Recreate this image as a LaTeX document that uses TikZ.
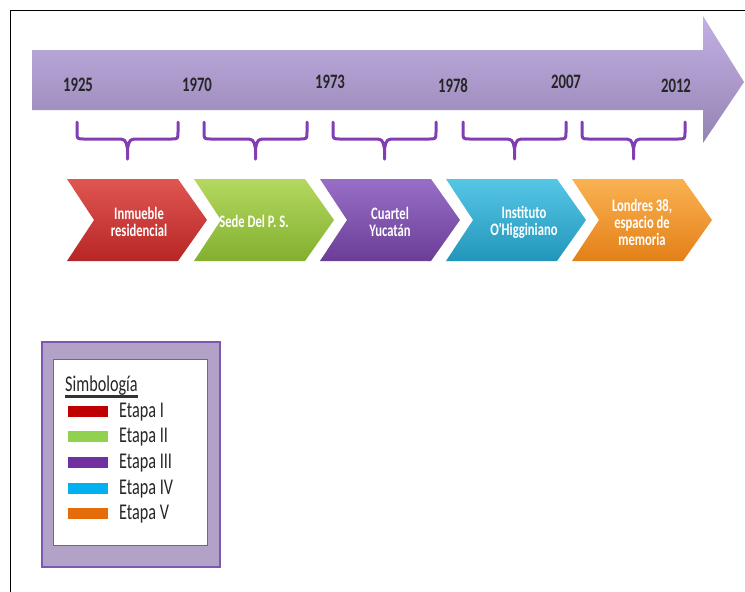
\documentclass[tikz,border=0pt]{standalone}
\usepackage{fontspec}
\newfontfamily\narrowfont[FakeStretch=0.72]{Carlito}

\definecolor{arrowtop}{RGB}{194,176,228}
\definecolor{arrowmid}{RGB}{171,153,207}
\definecolor{arrowbot}{RGB}{148,132,178}
\definecolor{bracepurple}{RGB}{128,62,178}
\definecolor{redtop}{RGB}{224,86,82}
\definecolor{redbot}{RGB}{182,38,38}
\definecolor{greentop}{RGB}{180,216,96}
\definecolor{greenbot}{RGB}{130,176,46}
\definecolor{purpletop}{RGB}{152,110,198}
\definecolor{purplebot}{RGB}{106,62,150}
\definecolor{cyantop}{RGB}{86,198,230}
\definecolor{cyanbot}{RGB}{34,150,186}
\definecolor{orangetop}{RGB}{249,178,82}
\definecolor{orangebot}{RGB}{228,128,24}
\definecolor{etapaI}{RGB}{192,0,0}
\definecolor{etapaII}{RGB}{146,208,80}
\definecolor{etapaIII}{RGB}{112,48,160}
\definecolor{etapaIV}{RGB}{0,176,240}
\definecolor{etapaV}{RGB}{228,108,10}
\definecolor{legendfill}{RGB}{179,162,199}
\definecolor{legendline}{RGB}{126,87,176}

\begin{document}
\begin{tikzpicture}[x=1pt,y=-1pt,
    year/.style={font=\narrowfont\bfseries\fontsize{20.5}{20.5}\selectfont, text=black!85},
    stage/.style={font=\narrowfont\bfseries\fontsize{17.5}{17}\selectfont, text=white, align=center},
    yearbrace/.style={bracepurple, line width=3pt, line cap=round, line join=round},
    legendtxt/.style={font=\narrowfont\fontsize{22.5}{22.5}\selectfont, text=black!85, inner sep=0pt}]
    \useasboundingbox (0,0) rectangle (745,592);
    % frame
    \draw [line width=1pt] (10,592) -- (10,10) -- (745,10);
    % big arrow
    \shade [top color=arrowtop, middle color=arrowmid, bottom color=arrowbot]
        (32,50) -- (703,50) -- (703,16) -- (744,82) -- (703,143) -- (703,110) -- (32,110) -- cycle;
    \node [year] (y1925) at (78,85) {1925};
    \node [year] (y1970) at (197,85) {1970};
    \node [year] (y1973) at (330,82) {1973};
    \node [year] (y1978) at (453,85) {1978};
    \node [year] (y2007) at (566,82) {2007};
    \node [year] (y2012) at (676,86) {2012};
    % braces
    \foreach \a/\m/\b in {77/127.5/178, 204/255.5/307, 333/384.5/436, 463/514.5/566, 582/633.5/685}
        \draw [yearbrace] (\a,122) -- (\a,132) .. controls (\a,139) .. (\a+7,139) -- (\m-12,139)
            .. controls (\m-2,139) .. (\m,149) -- (\m,159)
            (\m,149) .. controls (\m+2,139) .. (\m+12,139) -- (\b-7,139)
            .. controls (\b,139) .. (\b,132) -- (\b,122);
    % chevrons
    \foreach \s/\ct/\cb in {67/redtop/redbot, 194/greentop/greenbot, 320/purpletop/purplebot,
                            446/cyantop/cyanbot, 572/orangetop/orangebot}
        \shade [top color=\ct, bottom color=\cb]
            (\s,179) -- (\s+111,179) -- (\s+140,220) -- (\s+111,261) -- (\s,261) -- (\s+27,220) -- cycle;
    \node [stage] (s1) at (139,222) {Inmueble\\residencial};
    \node [stage] (s2) at (254,221) {Sede Del P. S.};
    \node [stage] (s3) at (390,222) {Cuartel\\Yucatán};
    \node [stage] (s4) at (524,222) {Instituto\\O'Higginiano};
    \node [stage] (s5) at (642,222) {Londres 38,\\espacio de\\memoria};
    % legend
    \draw [legendline, line width=2pt, fill=legendfill] (42,342) rectangle (220,567);
    \draw [legendline, line width=1pt, fill=white] (53,359) rectangle (207,545);
    \node [legendtxt, anchor=base west] (simb) at (65,391) {Simbología};
    \draw [black!80, line width=2.5pt] ([yshift=-5.5pt]simb.base west) -- ([yshift=-5.5pt]simb.base east);
    \foreach \i/\c/\t/\y in {1/etapaI/I/411, 2/etapaII/II/436.7, 3/etapaIII/III/462.4,
                            4/etapaIV/IV/488.1, 5/etapaV/V/513.8} {
        \fill [\c] (68,\y-5.5) rectangle (108,\y+5.5);
        \node [legendtxt, anchor=base west] (e\i) at (119,\y+6) {Etapa \t};
    }
\end{tikzpicture}
\end{document}
